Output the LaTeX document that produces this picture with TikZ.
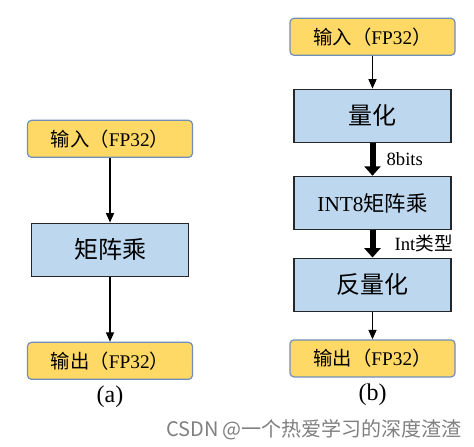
\documentclass[tikz,border=0pt]{standalone}
\usepackage{fontspec}
\setmainfont{Liberation Serif}
\newfontfamily\cjk{Noto Sans CJK SC}
\newcommand\zhtext[1]{{\cjk #1}}
\usepackage{tikz}
\usetikzlibrary{matrix,arrows.meta}
\definecolor{ioyellow}{HTML}{FFD966}
\definecolor{ioborder}{HTML}{6F8FB8}
\definecolor{opblue}{HTML}{BDD7EE}
\tikzset{
  io/.style={draw=ioborder, fill=ioyellow, rounded corners=3pt, line width=0.9pt,
    minimum width=123.75pt, minimum height=27.75pt, inner sep=0pt, font=\fontsize{14.5pt}{16pt}\selectfont},
  op/.style={draw=black!85, fill=opblue, line width=1.1pt,
    minimum width=117.75pt, minimum height=39.75pt, inner sep=0pt, font=\fontsize{18pt}{20pt}\selectfont},
  flow/.style={-{Triangle[length=7pt,width=6pt]}, line width=0.8pt},
  fat/.style={-{Triangle[length=7pt,width=12pt]}, line width=4.5pt},
}
\begin{document}
\begin{tikzpicture}[x=0.75pt,y=-0.75pt]
\fill[white] (0,0) rectangle (474,446);
\useasboundingbox (0,0) rectangle (474,446);
%\matrix(a)[matrix of nodes, row sep=4em]
\matrix(a)[matrix of nodes, row sep=48.5pt, anchor=north] at (110,115)
{
	|[io]| \zhtext{输入（}FP32\zhtext{）} \\
	|[op]| \zhtext{矩阵乘} \\
	|[io]| \zhtext{输出（}FP32\zhtext{）} \\
};
\matrix(b)[matrix of nodes, row sep=24.5pt, anchor=north] at (372.5,13)
{
	|[io]| \zhtext{输入（}FP32\zhtext{）} \\
	|[op]| \zhtext{量化} \\
	|[op,font=\fontsize{16pt}{18pt}\selectfont]| INT8\zhtext{矩阵乘} \\[-4pt]
	|[op]| \zhtext{反量化} \\[-4pt]
	|[io]| \zhtext{输出（}FP32\zhtext{）} \\
};
\path[flow]
(a-1-1) edge (a-2-1)
(a-2-1) edge (a-3-1)
(b-1-1) edge (b-2-1)
(b-4-1) edge (b-5-1)
;
\path[font=\fontsize{14pt}{16pt}\selectfont]
(b-2-1) edge[fat] node[right=5pt]{8bits} (b-3-1)
(b-3-1) edge[fat] node[right=11pt]{Int\zhtext{类型}} (b-4-1)
;
\node (capa) [below=1pt, font=\fontsize{18pt}{20pt}\selectfont] at (a-3-1.south) {(a)};
\node (capb) [below=1pt, font=\fontsize{18pt}{20pt}\selectfont] at (b-5-1.south) {(b)};
\node (mark) [text=black!50, font=\cjk\fontsize{15pt}{17pt}\selectfont] at (314,430) {CSDN @一个热爱学习的深度渣渣};
\end{tikzpicture}
\end{document}
